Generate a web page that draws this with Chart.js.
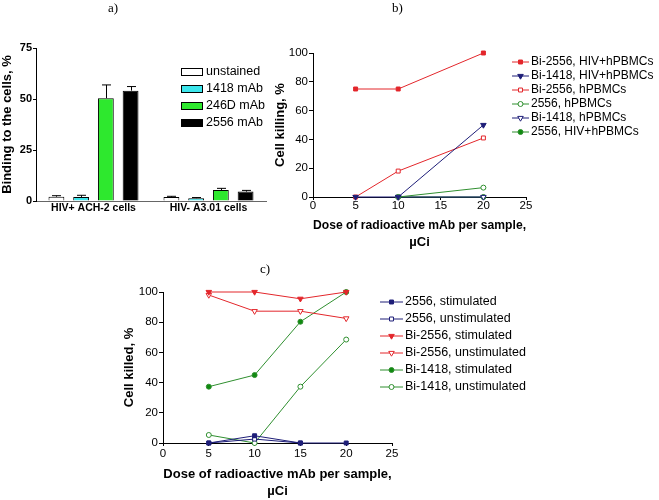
<!DOCTYPE html>
<html><head><meta charset="utf-8">
<script src="https://cdn.jsdelivr.net/npm/chart.js@4/dist/chart.umd.min.js"></script>
<style>
html,body{margin:0;padding:0;background:#fff;}
#wrap{position:relative;width:659px;height:500px;overflow:hidden;background:#fff;}
canvas{position:absolute;left:0;top:0;}
.lab{position:absolute;font-family:'Liberation Serif','Times New Roman',serif;font-size:13px;line-height:16px;color:#000;}
</style></head><body>
<div id="wrap">
<canvas id="ca" width="659" height="500"></canvas>
<canvas id="cb" width="659" height="500"></canvas>
<canvas id="cc" width="659" height="500"></canvas>
<div class="lab" style="left:108px;top:0px">a)</div>
<div class="lab" style="left:392px;top:0px">b)</div>
<div class="lab" style="left:260px;top:261px">c)</div>
</div>
<script>
// ---------- data: panel a ----------
const cellLinesA = ['HIV+ ACH-2 cells', 'HIV- A3.01 cells'];
const unstainedA = [2.1, 2.0];
const mAb1418A = [2.0, 1.4];
const mAb246DA = [50.4, 5.4];
const mAb2556A = [54.1, 4.6];
const errUnstainedA = [0.5, 0.3];
const err1418A = [0.8, 0.3];
const err246DA = [6.5, 0.8];
const err2556A = [2.0, 0.6];
const yTicksA = [0, 25, 50, 75];

// ---------- data: panel b ----------
const doseB = [5, 10, 20];
const bi2556HivB = [75, 75, 100];
const bi1418HivB = [0, 0, 50];
const bi2556HB = [0, 18, 41];
const m2556HB = [null, 0, 6.5];
const bi1418HB = [null, 0, 0];
const m2556HivB = [null, 0, 0];

// ---------- data: panel c ----------
const doseC = [5, 10, 15, 20];
const s2556StimC = [0, 4.8, 0, 0];
const s2556UnstimC = [0, 2.6, 0, null];
const bi2556StimC = [100, 100, 95.5, 100];
const bi2556UnstimC = [98, 87.3, 87.3, 82.5];
const bi1418StimC = [37.3, 45, 80.3, 100];
const bi1418UnstimC = [5.3, 0, 37.3, 68.5];

const FONT = "'Liberation Sans', Arial, sans-serif";
const RED = '#e3262b', NAVY = '#1e1e78', GREEN = '#2f8f2f', GREENF = '#0f8a0f';

function pts(xs, ys){ return xs.map((x,i)=>({x:x, y:ys[i]})).filter(p=>p.y!==null); }

function drawMarker(ctx, style, x, y, r, rot, fill, stroke){
  ctx.save();
  ctx.beginPath();
  if(style==='rect'){
    const s = r*Math.SQRT1_2;
    ctx.rect(x-s, y-s, 2*s, 2*s);
  } else if(style==='triangle'){
    let rad = (rot||0)*Math.PI/180;
    ctx.moveTo(x+Math.sin(rad)*r, y-Math.cos(rad)*r);
    rad += 2*Math.PI/3; ctx.lineTo(x+Math.sin(rad)*r, y-Math.cos(rad)*r);
    rad += 2*Math.PI/3; ctx.lineTo(x+Math.sin(rad)*r, y-Math.cos(rad)*r);
    ctx.closePath();
  } else {
    ctx.arc(x, y, r, 0, Math.PI*2);
  }
  ctx.fillStyle = fill; ctx.fill();
  ctx.lineWidth = 1; ctx.strokeStyle = stroke; ctx.stroke();
  ctx.restore();
}

const legendPlugin = {
  id: 'customLegend',
  afterDraw(chart, args, opts){
    if(!opts || !opts.show) return;
    const ctx = chart.ctx;
    ctx.save();
    ctx.font = opts.font;
    ctx.textBaseline = 'middle';
    chart.data.datasets.forEach((ds, i)=>{
      const y = opts.y0 + i*opts.dy;
      if(opts.kind === 'box'){
        ctx.fillStyle = ds.backgroundColor;
        ctx.fillRect(opts.x, y-4, 22, 8);
        ctx.strokeStyle = '#000'; ctx.lineWidth = 1;
        ctx.strokeRect(opts.x+0.5, y-3.5, 21, 7);
      } else {
        ctx.strokeStyle = ds.borderColor; ctx.lineWidth = 1;
        ctx.beginPath(); ctx.moveTo(opts.x, y); ctx.lineTo(opts.x+opts.len, y); ctx.stroke();
        drawMarker(ctx, ds.pointStyle, opts.x+opts.len/2, y, ds.pointRadius, ds.pointRotation, ds.pointBackgroundColor, ds.borderColor);
      }
      ctx.fillStyle = '#000';
      ctx.fillText(ds.label, opts.textX, y);
    });
    ctx.restore();
  }
};

const errPlugin = {
  id: 'errBars',
  afterDatasetsDraw(chart){
    const ctx = chart.ctx, ys = chart.scales.y;
    chart.data.datasets.forEach((ds, i)=>{
      const meta = chart.getDatasetMeta(i);
      meta.data.forEach((bar, j)=>{
        const e = ds.errors[j];
        if(!e) return;
        const yTop = ys.getPixelForValue(ds.data[j] + e);
        const x = Math.round(bar.x) + 0.5;
        ctx.save();
        ctx.strokeStyle = '#000'; ctx.lineWidth = 1;
        ctx.beginPath();
        ctx.moveTo(x, bar.y); ctx.lineTo(x, yTop);
        ctx.moveTo(x-4.5, yTop); ctx.lineTo(x+4.5, yTop);
        ctx.stroke();
        ctx.restore();
      });
    });
  }
};

// ---------- panel a ----------
new Chart(document.getElementById('ca'), {
  type: 'bar',
  data: {
    labels: cellLinesA,
    datasets: [
      {label:'unstained', data:unstainedA, errors:errUnstainedA, backgroundColor:'#ffffff'},
      {label:'1418 mAb', data:mAb1418A, errors:err1418A, backgroundColor:'#3ce6ec'},
      {label:'246D mAb', data:mAb246DA, errors:err246DA, backgroundColor:'#2ee82e'},
      {label:'2556 mAb', data:mAb2556A, errors:err2556A, backgroundColor:'#000000'}
    ].map(d=>Object.assign(d, {borderColor:'#000', borderWidth:1, categoryPercentage:0.86, barPercentage:0.64}))
  },
  options: {
    responsive:false, animation:false,
    layout:{padding:{left:0, top:48, right:393, bottom:0}},
    plugins:{legend:{display:false}, tooltip:{enabled:false},
      customLegend:{show:true, kind:'box', x:181, y0:72, dy:17, textX:206, font:"12.5px "+FONT}},
    scales:{
      x:{ grid:{display:false, drawTicks:false}, border:{color:'#666', width:1},
          ticks:{color:'#000', padding:1, font:{family:FONT, size:10.5, weight:'bold'}},
          afterFit:s=>{s.height=299;} },
      y:{ min:0, max:75, afterBuildTicks:s=>{s.ticks=yTicksA.map(v=>({value:v}));},
          grid:{display:true, drawOnChartArea:false, tickLength:3, color:'#000'},
          border:{color:'#000', width:1},
          ticks:{color:'#000', padding:1, font:{family:FONT, size:11, weight:'bold'}},
          title:{display:true, text:'Binding to the cells, %', color:'#000', padding:0, font:{family:FONT, size:13, weight:'bold'}},
          afterFit:s=>{s.width=36;} }
    }
  },
  plugins:[legendPlugin, errPlugin]
});

function lineDs(label, xs, ys, color, style, filled, rot, fillColor){
  return {label:label, data:pts(xs, ys), borderColor:color, borderWidth:1,
    pointStyle:style, pointRotation:rot||0, pointRadius: style==='triangle'?3.2:(style==='rect'?2.8:2.5),
    pointBackgroundColor: filled ? (fillColor||color) : '#ffffff', pointBorderColor:color, pointBorderWidth:1,
    clip:false, tension:0};
}

function lineOptions(c){
  return {
    responsive:false, animation:false,
    layout:{padding:c.pad},
    plugins:{legend:{display:false}, tooltip:{enabled:false}, customLegend:c.legend},
    scales:{
      x:{ type:'linear', min:0, max:25,
          ticks:{stepSize:5, color:'#000', padding:c.xpad, font:{family:FONT, size:11.5, lineHeight:1}},
          grid:{display:true, drawOnChartArea:false, tickLength:3, color:'#000'},
          border:{color:'#000', width:1},
          title:{display:true, text:['Dose of radioactive mAb per sample,', '\u00b5Ci'], color:'#000', padding:0,
                 font:{family:FONT, size:13, weight:'bold', lineHeight:1.3}},
          afterFit:s=>{s.height=c.xh;} },
      y:{ min:0, max:100,
          ticks:{stepSize:20, color:'#000', padding:1, font:{family:FONT, size:11.5}},
          grid:{display:true, drawOnChartArea:false, tickLength:4, color:'#000'},
          border:{color:'#000', width:1},
          title:{display:true, text:c.ytitle, color:'#000', padding:0, font:{family:FONT, size:13, weight:'bold'}},
          afterFit:s=>{s.width=c.yw;} }
    }
  };
}

// ---------- panel b ----------
new Chart(document.getElementById('cb'), {
  type:'line',
  data:{ datasets:[
    lineDs('Bi-2556, HIV+hPBMCs', doseB, bi2556HivB, RED, 'rect', true),
    lineDs('Bi-1418, HIV+hPBMCs', doseB, bi1418HivB, NAVY, 'triangle', true, 180),
    lineDs('Bi-2556, hPBMCs', doseB, bi2556HB, RED, 'rect', false),
    lineDs('2556, hPBMCs', doseB, m2556HB, GREEN, 'circle', false),
    lineDs('Bi-1418, hPBMCs', doseB, bi1418HB, NAVY, 'triangle', false, 180),
    lineDs('2556, HIV+hPBMCs', doseB, m2556HivB, GREEN, 'circle', true, 0, GREENF)
  ]},
  options: lineOptions({pad:{left:273, top:53, right:133, bottom:249.5}, xh:53.5, yw:40, xpad:0,
    ytitle:'Cell killing, %',
    legend:{show:true, kind:'line', x:512, len:17, y0:62, dy:14, textX:531, font:"12px "+FONT}}),
  plugins:[legendPlugin]
});

// ---------- panel c ----------
new Chart(document.getElementById('cc'), {
  type:'line',
  data:{ datasets:[
    lineDs('2556, stimulated', doseC, s2556StimC, NAVY, 'rect', true),
    lineDs('2556, unstimulated', doseC, s2556UnstimC, NAVY, 'rect', false),
    lineDs('Bi-2556, stimulated', doseC, bi2556StimC, RED, 'triangle', true, 180),
    lineDs('Bi-2556, unstimulated', doseC, bi2556UnstimC, RED, 'triangle', false, 180),
    lineDs('Bi-1418, stimulated', doseC, bi1418StimC, GREEN, 'circle', true, 0, GREENF),
    lineDs('Bi-1418, unstimulated', doseC, bi1418UnstimC, GREEN, 'circle', false)
  ]},
  options: lineOptions({pad:{left:122, top:292, right:267, bottom:0.5}, xh:56.5, yw:41, xpad:2,
    ytitle:'Cell killed, %',
    legend:{show:true, kind:'line', x:380, len:23, y0:302, dy:17, textX:405, font:"12.5px "+FONT}}),
  plugins:[legendPlugin]
});
</script>
</body></html>
